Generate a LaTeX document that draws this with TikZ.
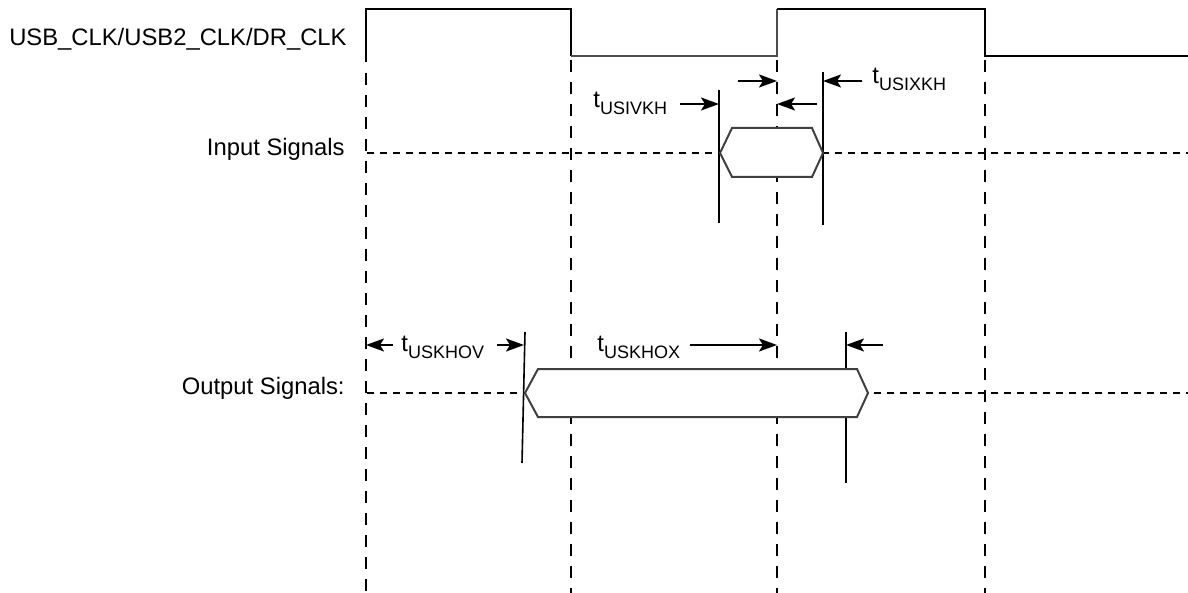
\documentclass[tikz,border=0pt]{standalone}
\usepackage{fontspec}
\setmainfont{Liberation Sans}
\usetikzlibrary{arrows.meta}
\newcommand{\tsub}[1]{t\raisebox{-3.5pt}{\fontsize{9}{10}\selectfont #1}}
\begin{document}
\begin{tikzpicture}[x=0.5pt,y=-0.5pt,
  clk/.style={line width=1.2pt},
  clkthin/.style={line width=0.9pt, black!70},
  gridline/.style={line width=1.2pt, dash pattern=on 6pt off 5pt},
  levelline/.style={line width=1pt, dash pattern=on 3.5pt off 3pt},
  edgeline/.style={line width=0.8pt},
  databox/.style={draw=black!75, fill=white, line width=1pt},
  dim/.style={line width=1pt, -{Stealth[length=9pt,width=6.5pt,inset=2pt]}},
  lbl/.style={font=\fontsize{11.9}{14}\selectfont, inner sep=0pt}]
\useasboundingbox (0,0) rectangle (1188,593);

% clock waveform
\draw[clk] (366,62) -- (366,9) -- (571,9) -- (571,56);
\draw[clkthin] (571,56) -- (777,56) -- (777,9);
\draw[clk] (777,9) -- (985,9) -- (985,56) -- (1188,56);

% vertical grid lines
\foreach \x/\y in {366/73, 571/60, 777/60, 985/60}
  \draw[gridline] (\x,\y) -- (\x,593);

% level lines
\draw[levelline] (367,153) -- (1188,153);
\draw[levelline] (367,393) -- (1188,393);

% solid timing marks
\coordinate (ivt) at (719,90);  \coordinate (ivb) at (719,223);
\coordinate (ixt) at (823,72);  \coordinate (ixb) at (823,225);
\coordinate (ovt) at (525,332); \coordinate (ovb) at (522,463);
\coordinate (oxt) at (846,332); \coordinate (oxb) at (846,483);
\draw[edgeline] (ivt) -- (ivb);
\draw[edgeline] (ixt) -- (ixb);
\draw[edgeline] (ovt) -- (ovb);
\draw[edgeline] (oxt) -- (oxb);

% data boxes
\draw[databox] (720,153) -- (732,128) -- (812,128) -- (823,153) -- (812,177) -- (732,177) -- cycle;
\draw[databox] (525,393) -- (538,369) -- (857,369) -- (868,393) -- (857,417) -- (538,417) -- cycle;

% labels
\node[lbl, anchor=base east] (clklbl) at (347,46) {USB\_CLK/USB2\_CLK/DR\_CLK};
\node[lbl, anchor=base east] (inlbl) at (345,156) {Input Signals};
\node[lbl, anchor=base east] (outlbl) at (345,394) {Output Signals:};

\node[lbl, anchor=base west] (usivkh) at (593,108) {\tsub{USIVKH}};
\node[lbl, anchor=base west] (usixkh) at (872,84) {\tsub{USIXKH}};
\node[lbl, anchor=base west] (uskhov) at (401,351) {\tsub{USKHOV}};
\node[lbl, anchor=base west] (uskhox) at (597,351) {\tsub{USKHOX}};

% arrows (input)
\coordinate (a1s) at (738,81);  \coordinate (a1e) at (777,81);
\coordinate (a2s) at (862,81);  \coordinate (a2e) at (823,81);
\coordinate (a3s) at (817,104); \coordinate (a3e) at (777,104);
\coordinate (a4s) at (680,104); \coordinate (a4e) at (719,104);
\draw[dim] (a1s) -- (a1e);
\draw[dim] (a2s) -- (a2e);
\draw[dim] (a3s) -- (a3e);
\draw[dim] (a4s) -- (a4e);

% arrows (output)
\coordinate (b1s) at (393,345); \coordinate (b1e) at (366,345);
\coordinate (b2s) at (497,345); \coordinate (b2e) at (524,345);
\coordinate (b3s) at (690,345); \coordinate (b3e) at (777,345);
\coordinate (b4s) at (883,345); \coordinate (b4e) at (846,345);
\draw[dim] (b1s) -- (b1e);
\draw[dim] (b2s) -- (b2e);
\draw[dim] (b3s) -- (b3e);
\draw[dim] (b4s) -- (b4e);
\end{tikzpicture}
\end{document}
